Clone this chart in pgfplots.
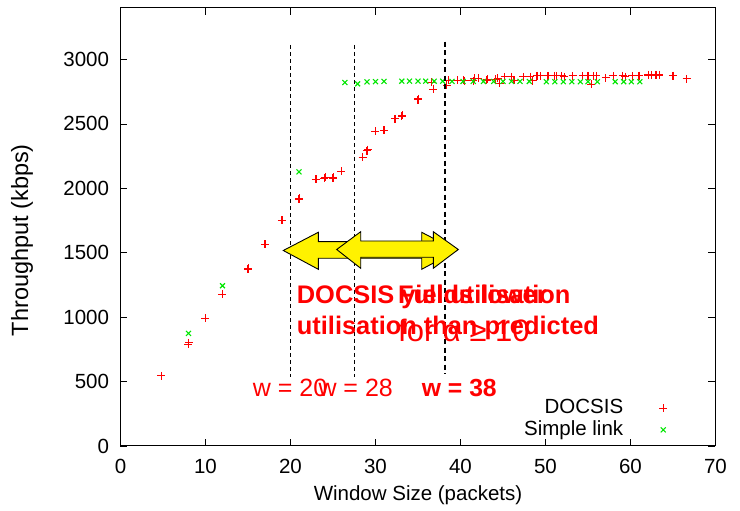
\documentclass[border=0pt]{standalone}
\usepackage{pgfplots}
\pgfplotsset{compat=1.18}
\usepackage{fontspec}
\setmainfont{Liberation Sans}
\definecolor{gpred}{RGB}{255,0,0}
\definecolor{gpgreen}{RGB}{0,230,0}
\newcommand{\tf}{\fontsize{20.5}{24}\selectfont}
\begin{document}
\begin{tikzpicture}
\useasboundingbox (-120.5pt,-65pt) rectangle (619.5pt,446pt);
\begin{axis}[at={(0pt,0pt)}, anchor=south west, scale only axis,
  width=595pt, height=438pt,
  xmin=0, xmax=70, ymin=0, ymax=3400,
  xtick={0,10,...,70}, ytick={0,500,...,3000},
  tick align=inside, tick pos=both, major tick length=7pt,
  tick style={line width=0.8pt, black},
  axis line style={line width=1pt},
  /pgf/number format/assume math mode=true,
  /pgf/number format/1000 sep={},
  tick label style={font=\tf},
  xticklabel style={yshift=-10pt},
  yticklabel style={xshift=-8pt},
  xlabel={Window Size (packets)}, ylabel={Throughput (kbps)},
  xlabel style={font=\tf, at={(axis description cs:0.5,-0.112)}, anchor=center},
  ylabel style={font=\fontsize{23.5}{27}\selectfont, at={(axis description cs:-0.1655,0.47)}, anchor=center, rotate=0},
  legend plot pos=right,
  legend cell align=right,
  legend image code/.code={\path[draw=none,fill=none] (0pt,-1pt) rectangle (17pt,1pt); \draw[#1] plot coordinates {(8.5pt,0pt)};},
  legend style={draw=none, fill=none, font=\tf, inner sep=0pt, outer sep=0pt,
    column sep=31pt, at={(0.9264,0.0123)}, anchor=south east,
    nodes={inner sep=0.5pt, text height=15.4pt, text depth=5.1pt}},
]
\addplot[only marks, mark=+, mark size=4pt, color=gpred, line width=1.1pt, mark options={draw=gpred, solid}] coordinates {
(4.8,545) (8.0,790) (8.05,800) (10.0,991) (12.0,1177) (15.0,1371) (15.05,1378)
(17.0,1565) (19.0,1753) (21.0,1914) (21.05,1922) (23.0,2069) (24.0,2077) (24.1,2085)
(25.0,2077) (25.05,2085) (26.0,2131) (28.5,2242) (29.0,2291) (29.1,2300) (30.0,2444)
(31.0,2451) (32.3,2539) (33.1,2560) (33.15,2568) (35.0,2687) (35.05,2695) (36.8,2770)
(36.6,2824) (38.4,2800) (38.6,2840) (39.6,2840) (40.4,2840) (40.5,2834) (41.5,2834)
(41.6,2853) (42.1,2853) (43.1,2840) (43.15,2845) (44.1,2845) (44.4,2855) (44.6,2816)
(45.2,2865) (46.0,2868) (46.3,2840) (47.4,2865) (48.2,2868) (48.5,2834) (49.0,2873)
(49.4,2873) (50.3,2873) (51.1,2873) (51.3,2873) (51.9,2873) (52.2,2865) (53.2,2873)
(54.4,2873) (55.0,2873) (55.4,2808) (55.6,2873) (56.0,2873) (57.1,2858) (58.0,2873)
(59.1,2873) (59.4,2868) (60.2,2873) (61.0,2876) (62.1,2880) (62.5,2880) (62.9,2880)
(63.1,2880) (63.4,2880) (65.0,2876) (66.6,2850)
};
\addlegendentry{DOCSIS}
\addplot[only marks, mark=x, mark size=3.5pt, color=gpgreen, line width=1.1pt, mark options={draw=gpgreen, solid}] coordinates {
(8.0,874) (12.0,1244) (21.0,2128) (26.4,2822) (27.9,2811) (29.0,2826) (30.0,2828)
(31.0,2830) (33.1,2832) (34.0,2832) (35.0,2832) (35.9,2832) (36.9,2832) (37.9,2832)
(39.0,2830) (40.3,2830) (41.5,2830) (42.7,2830) (43.9,2830) (45.0,2830) (46.0,2830)
(47.0,2830) (48.1,2830) (50.1,2828) (51.1,2828) (52.1,2828) (53.1,2828) (54.1,2828)
(55.0,2828) (56.1,2828) (58.2,2828) (59.2,2828) (60.1,2828) (61.1,2828)
};
\addlegendentry{Simple link}
\end{axis}
\begin{scope}[x=1pt, y=-1pt, shift={(-120.5pt,446pt)}]
  % dashed vertical lines
  \draw[black, line width=1pt, dash pattern=on 4pt off 3pt] (290.5,45) -- (290.5,376.7);
  \draw[black, line width=1pt, dash pattern=on 4pt off 3pt] (354,45) -- (354,376.7);
  \draw[black, line width=2.6pt, dash pattern=on 5pt off 3.5pt] (445,41.7) -- (445,373.3);
  % arrows
  \draw[fill=yellow, draw=black, line width=0.9pt]
    (283.3,250.5) -- (318.3,232.3) -- (318.3,241.7) -- (421.7,241.7) -- (421.7,232.3)
    -- (456.7,250.5) -- (421.7,269.3) -- (421.7,258.3) -- (318.3,258.3) -- (318.3,269.3) -- cycle;
  \draw[fill=yellow, draw=black, line width=0.9pt]
    (336.7,249.5) -- (360.7,231.7) -- (360.7,241) -- (433.3,241) -- (433.3,231.7)
    -- (458.3,249.5) -- (433.3,268.3) -- (433.3,257.3) -- (360.7,257.3) -- (360.7,268.3) -- cycle;
  % texts
  \node[anchor=base west, inner sep=0pt, text=gpred, font=\bfseries\fontsize{25.4}{30}\selectfont] at (296.7,303.3) {DOCSIS yields lower};
  \node[anchor=base west, inner sep=0pt, text=gpred, font=\bfseries\fontsize{25.4}{30}\selectfont] at (296.7,334.3) {utilisation than predicted};
  \node[anchor=base west, inner sep=0pt, text=gpred, font=\bfseries\fontsize{25.4}{30}\selectfont] at (398,303.3) {Full utilisation};
  \node[anchor=base west, inner sep=0pt, text=gpred, font=\fontsize{31}{36}\selectfont] at (398,341.7) {for α ≥ 10};
  \node[anchor=base west, inner sep=0pt, text=gpred, font=\fontsize{25}{30}\selectfont] at (252.7,396.7) {w = 20};
  \node[anchor=base west, inner sep=0pt, text=gpred, font=\fontsize{25}{30}\selectfont] at (318.3,396.7) {w = 28};
  \node[anchor=base west, inner sep=0pt, text=gpred, font=\bfseries\fontsize{24.7}{30}\selectfont] at (421.7,396.7) {w = 38};
\end{scope}
\end{tikzpicture}
\end{document}
